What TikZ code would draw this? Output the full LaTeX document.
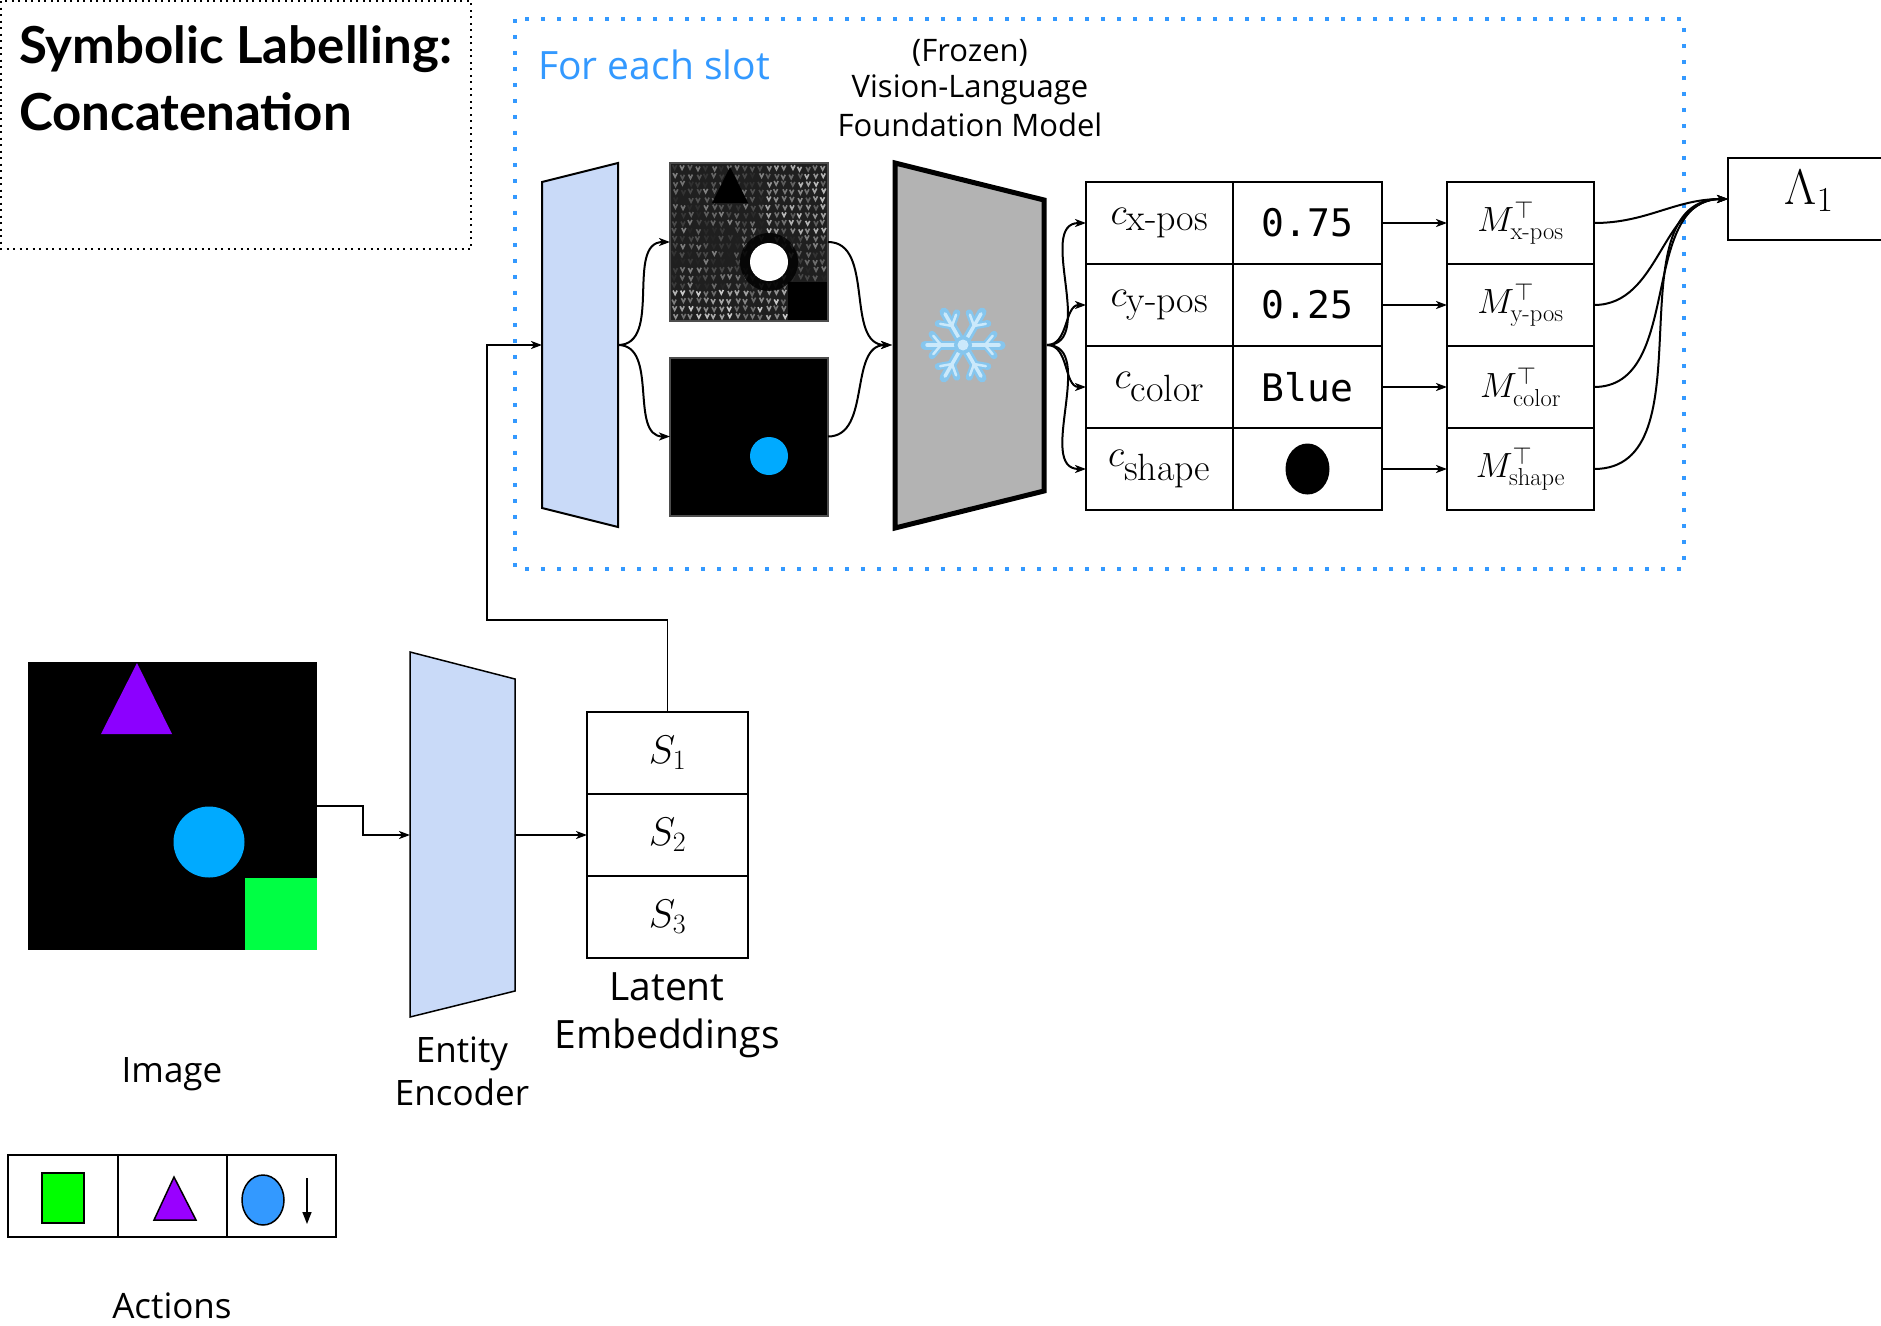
\RequirePackage{fix-cm}
\documentclass[tikz,border=0pt]{standalone}
\usepackage{amsmath}
\usepackage{fontspec}
\usetikzlibrary{arrows.meta}
\newfontfamily\osans{Open Sans}
\newfontfamily\lato{Lato}
\newfontfamily\dmono{DejaVu Sans Mono}
\newcommand{\fsz}[1]{\fontsize{#1}{#1}\selectfont}
\definecolor{slotblue}{HTML}{3399FF}
\definecolor{encblue}{HTML}{C9DAF8}
\definecolor{vlmgray}{HTML}{B3B3B3}
\definecolor{imgblue}{HTML}{00AAFF}
\definecolor{imgpurple}{HTML}{8C00FF}
\definecolor{imggreen}{HTML}{00FF44}
\definecolor{actgreen}{HTML}{00FF00}
\definecolor{actpurple}{HTML}{9900FF}
\definecolor{actblue}{HTML}{3399FF}
\definecolor{snowdark}{HTML}{86C6EE}
\definecolor{snowlight}{HTML}{CBE9FB}
\definecolor{framegray}{HTML}{4D4D4D}
\tikzset{
  arr/.style={line width=2pt, -{Stealth[length=11pt,width=8pt,inset=3pt]}},
  cell/.style={draw, line width=2pt, inner sep=0pt, outer sep=0pt,
               minimum width=147pt, minimum height=82pt},
  txt/.style={anchor=base, inner sep=0pt, font=\osans\fsz{35}},
  titletxt/.style={anchor=base west, inner sep=0pt, font=\lato\bfseries\fsz{51}},
  vlmtxt/.style={anchor=base, inner sep=0pt, font=\osans\fsz{31}},
  encoder/.style={draw, fill=encblue, line width=1.5pt},
  slotimg/.style={draw=framegray, fill=black, line width=2pt, inner sep=0pt,
                  outer sep=0pt, minimum width=158pt, minimum height=158pt},
  ccell/.style={cell, font=\fsz{38}},
  vcell/.style={cell, minimum width=149pt, font=\dmono\fsz{38}},
  mcell/.style={cell, font=\fsz{35}},
  scell/.style={cell, minimum width=161pt, font=\fsz{40}},
  actcell/.style={draw, line width=2pt, inner sep=0pt, outer sep=0pt,
                  minimum width=109pt, minimum height=82pt}
}
\begin{document}
\begin{tikzpicture}[x=1pt,y=-1pt]
\useasboundingbox (0,0) rectangle (1881,1325);
\clip (0,0) rectangle (1881,1325);

% ---------- title ----------
\draw[black, line width=2pt, dash pattern=on 2pt off 4.5pt] (1,1) rectangle (471,249);
\node[titletxt] (title1) at (19,63) {Symbolic Labelling:};
\node[titletxt] (title2) at (19,130) {Concatenation};

% ---------- per-slot region ----------
\draw[slotblue, line width=4pt, dash pattern=on 4pt off 12pt] (515,19) rectangle (1684,569);
\node[anchor=base west, inner sep=0pt, text=slotblue, font=\osans\fsz{39}] (foreach) at (538,79) {For each slot};
\node[vlmtxt] (vlm1) at (970,61) {(Frozen)};
\node[vlmtxt] (vlm2) at (970,97) {Vision-Language};
\node[vlmtxt] (vlm3) at (970,136) {Foundation Model};

% ---------- input image ----------
\node[fill=black, inner sep=0pt, outer sep=0pt, minimum width=289pt, minimum height=288pt] (input) at (172.5,806) {};
\fill[imgpurple] (101,734) -- (137,663) -- (172,734) -- cycle;
\fill[imgblue] (209,842) circle (35.5);
\fill[imggreen] (245,878) rectangle (317,950);
\node[txt] (imglabel) at (172,1082) {Image};

% ---------- entity encoder ----------
\draw[encoder] (410,652) -- (515,679) -- (515,991) -- (410,1017) -- cycle;
\coordinate (encin) at (410,835);
\coordinate (encout) at (515,835);
\node[txt] (enclabel1) at (462,1062) {Entity};
\node[txt] (enclabel2) at (462,1105) {Encoder};

% ---------- latent embeddings ----------
\node[scell] (s1) at (667.5,753) {$S_1$};
\node[scell] (s2) at (667.5,835) {$S_2$};
\node[scell] (s3) at (667.5,917) {$S_3$};
\node[txt, font=\osans\fsz{39}] (latlabel1) at (667,1000) {Latent};
\node[txt, font=\osans\fsz{39}] (latlabel2) at (667,1048) {Embeddings};

% ---------- slot decoder ----------
\draw[encoder, line width=2pt] (542,182) -- (618,163) -- (618,527) -- (542,508) -- cycle;
\coordinate (decin) at (542,345);
\coordinate (decout) at (618,345);

% attention map of the slot
\node[slotimg, fill=black!88] (att) at (749,242) {};
\begin{scope}
  \clip (671,164) rectangle (827,320);
  \pgfmathsetseed{42}
  \foreach \i in {0,...,19}{
    \foreach \j in {0,...,19}{
      \pgfmathsetmacro{\g}{int(12+40*rnd + (\j>15)*28 + (\i>11)*(\j<9)*22)}
      \pgfmathsetmacro{\dx}{2*rnd}
      \pgfmathsetmacro{\dy}{2*rnd}
      \draw[white!\g!black, line width=1.6pt] (672+\i*7.8+\dx, 165+\j*7.8+\dy) -- ++(2,4) -- ++(2,-4);
    }
  }
  \fill[black] (712,203) -- (730,167) -- (748,203) -- cycle;
  \fill[black, opacity=0.8] (769,262) circle (29);
  \fill[white] (769,262) circle (19);
  \fill[black] (788,282) rectangle (828,321);
\end{scope}
\draw[framegray, line width=2pt] (670,163) rectangle (828,321);

% mask of the slot
\node[slotimg] (mask) at (749,436.5) {};
\fill[imgblue] (769,456) circle (19);

% ---------- frozen vision-language model ----------
\draw[fill=vlmgray, line width=5pt] (895,163) -- (1044,200) -- (1044,491) -- (895,528) -- cycle;
\coordinate (vlmin) at (892,345);
\coordinate (vlmout) at (1047,345);
\begin{scope}[shift={(963,345)}]
  \foreach \a in {0,60,...,300}{
    \draw[snowdark, line width=9pt, line cap=round] (0,0) -- (\a:38);
    \draw[snowdark, line width=7pt, line cap=round] (\a:22) -- ++(\a+50:14) (\a:22) -- ++(\a-50:14);
  }
  \foreach \a in {0,60,...,300}{
    \draw[snowlight, line width=3.5pt, line cap=round] (0,0) -- (\a:36);
    \draw[snowlight, line width=2.5pt, line cap=round] (\a:22) -- ++(\a+50:12) (\a:22) -- ++(\a-50:12);
  }
  \fill[snowdark] (0,0) circle (9);
  \fill[snowlight] (0,0) circle (5.5);
\end{scope}

% ---------- concept table ----------
\node[ccell] (cx) at (1159.5,223) {$c_{\mbox{x-pos}}$};
\node[ccell] (cy) at (1159.5,305) {$c_{\mbox{y-pos}}$};
\node[ccell] (cc) at (1159.5,387) {$c_{\mbox{color}}$};
\node[ccell] (cs) at (1159.5,469) {$c_{\mbox{shape}}$};
\node[vcell] (vx) at (1307.5,223) {0.75};
\node[vcell] (vy) at (1307.5,305) {0.25};
\node[vcell] (vc) at (1307.5,387) {Blue};
\node[vcell] (vs) at (1307.5,469) {};
\fill[black] (vs.center) ellipse (22 and 25.5);

% ---------- projection matrices ----------
\node[mcell] (mx) at (1520.5,223) {$M^{\top}_{\text{x-pos}}$};
\node[mcell] (my) at (1520.5,305) {$M^{\top}_{\text{y-pos}}$};
\node[mcell] (mc) at (1520.5,387) {$M^{\top}_{\text{color}}$};
\node[mcell] (ms) at (1520.5,469) {$M^{\top}_{\text{shape}}$};

% ---------- output ----------
\node[cell, anchor=west, minimum width=180pt] (lam) at (1728,199) {};
\node[inner sep=0pt, font=\fsz{50}] (lamlabel) at (1809,191) {$\Lambda_1$};

% ---------- actions ----------
\node[actcell, minimum width=110pt] (a1) at (63,1196) {};
\node[actcell] (a2) at (172.5,1196) {};
\node[actcell] (a3) at (281.5,1196) {};
\filldraw[fill=actgreen, draw=black, line width=1.5pt] (42,1173) rectangle (84,1223);
\filldraw[fill=actpurple, draw=black, line width=1.5pt] (154,1220) -- (174,1177) -- (196,1220) -- cycle;
\filldraw[fill=actblue, draw=black, line width=1.5pt] (263,1200) ellipse (21 and 25);
\coordinate (downtop) at (307,1178);
\coordinate (downbot) at (307,1224);
\draw[line width=1.5pt, -{Triangle[length=12pt,width=9pt]}] (downtop) -- (downbot);
\node[txt] (actlabel) at (172,1318) {Actions};

% ---------- connectors ----------
\draw[arr, line width=1.8pt] (input.east) -- ++(46,0) |- (encin);
\draw[arr, line width=1.8pt] (encout) -- (s2.west);
\draw[arr, line width=1.8pt] (s1.north) |- (487,620) -- (487,345) -- (decin);
\draw[arr] (decout) to[out=0,in=180] (att.west);
\draw[arr] (decout) to[out=0,in=180] (mask.west);
\draw[arr] (att.east) to[out=0,in=180] (vlmin);
\draw[arr] (mask.east) to[out=0,in=180] (vlmin);
\foreach \c in {cx,cy,cc,cs}{
  \draw[arr] (vlmout) to[out=0,in=180] (\c.west);
}
\draw[arr] (vx.east) -- (mx.west);
\draw[arr] (vy.east) -- (my.west);
\draw[arr] (vc.east) -- (mc.west);
\draw[arr] (vs.east) -- (ms.west);
\foreach \m in {mx,my,mc,ms}{
  \draw[arr] (\m.east) to[out=0,in=180] (lam.west);
}
\end{tikzpicture}
\end{document}
